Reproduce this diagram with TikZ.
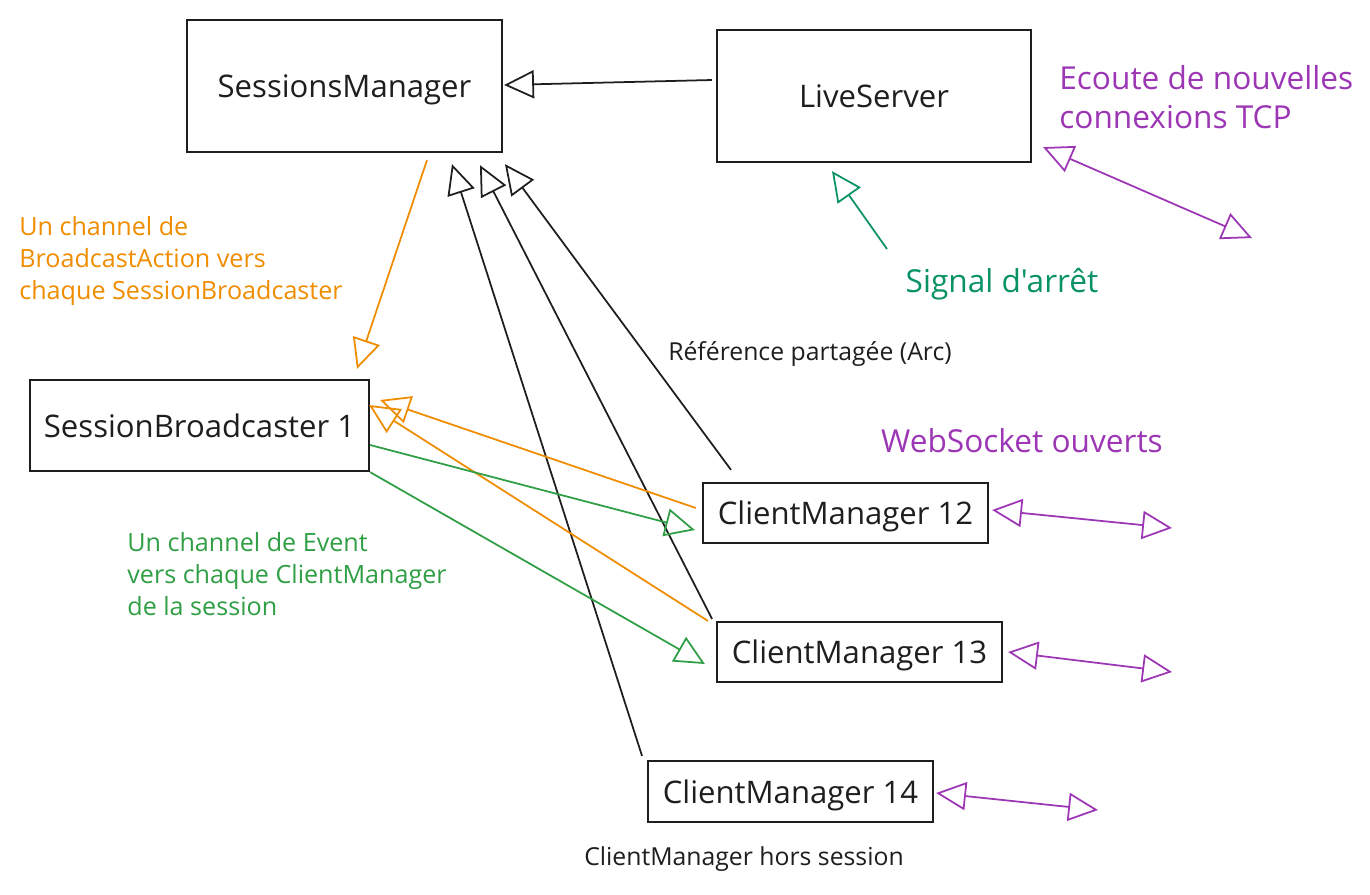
\documentclass[tikz,border=0pt]{standalone}
\usepackage{fontspec}
\setmainfont{Open Sans}[Ligatures=TeXOff]
\usetikzlibrary{positioning}
\usetikzlibrary{arrows.meta}
\definecolor{inkblack}{HTML}{1E1E1E}
\definecolor{excaorange}{HTML}{F08C00}
\definecolor{excagreen}{HTML}{2F9E44}
\definecolor{excateal}{HTML}{099268}
\definecolor{excapurple}{HTML}{9C36B5}
\tikzset{
    box/.style = {rectangle, line width=1.3pt, draw=inkblack, inner sep=0pt, text depth=0pt, text=inkblack, font=\fontsize{17.7}{20}\selectfont},
    notebig/.style = {align=left, inner sep=0pt, font=\fontsize{18}{22.2}\selectfont},
    notemid/.style = {align=left, inner sep=0pt, font=\fontsize{14.3}{18.2}\selectfont},
    notesmall/.style = {inner sep=0pt, text=inkblack, font=\fontsize{14.1}{16}\selectfont},
    edgen/.style = {-{Triangle[open,length=17pt,width=16pt]}, line width=1pt, inkblack},
    edgeo/.style = {-{Triangle[open,length=17pt,width=16pt]}, line width=1pt, excaorange},
    edgeg/.style = {-{Triangle[open,length=17pt,width=16pt]}, line width=1pt, excagreen},
    edget/.style = {-{Triangle[open,length=17pt,width=16pt]}, line width=1pt, excateal},
    edgep/.style = {{Triangle[open,length=17pt,width=16pt]}-{Triangle[open,length=17pt,width=16pt]}, line width=1pt, excapurple}
}

\begin{document}
\begin{tikzpicture}[x=0.02cm, y=-0.02cm]
  \useasboundingbox (0,0) rectangle (1370,894);

\node[box, minimum width=63mm, minimum height=26.4mm] at (344.5,86) (sm) {SessionsManager};
\node[box, minimum width=62.8mm, minimum height=26.4mm] at (874,96) (ls) {LiveServer};
\node[box, minimum width=67.8mm, minimum height=18.2mm] at (199.5,425.5) (sb) {SessionBroadcaster 1};
\node[box, minimum width=57mm, minimum height=12mm] at (845.5,513) (cm12) {ClientManager 12};
\node[box, minimum width=57mm, minimum height=12mm] at (859.5,652) (cm13) {ClientManager 13};
\node[box, minimum width=57mm, minimum height=12.2mm] at (790.5,791.5) (cm14) {ClientManager 14};

\node[notebig, text=excapurple, anchor=west] at (1059,97) (ecoute) {Ecoute de nouvelles\\connexions TCP};
\node[notebig, text=excateal] at (1002,284) (signal) {Signal d'arrêt};
\node[notebig, text=excapurple] at (1022,441) (ws) {WebSocket ouverts};
\node[notemid, text=excaorange, anchor=west] at (19,261) (bcast) {Un channel de\\BroadcastAction vers\\chaque SessionBroadcaster};
\node[notemid, text=excagreen, anchor=west] at (127,574) (event) {Un channel de Event\\vers chaque ClientManager\\de la session};
\node[notesmall] at (810,354) (arc) {Référence partagée (Arc)};
\node[notesmall] at (744,859) (hors) {ClientManager hors session};

% free ends
\coordinate (stop) at (887,249);
\coordinate (tcp) at (1252,238);
\coordinate (ws12) at (1172,528);
\coordinate (ws13) at (1172,672);
\coordinate (ws14) at (1098,810);

\draw[edgen] ([xshift=-0.8mm,yshift=3.2mm]ls.west) -- ([xshift=0.2mm,yshift=0.2mm]sm.east);
\draw[edgeo] ([xshift=16.5mm,yshift=-1.4mm]sm.south) -- ([xshift=31.5mm,yshift=2mm]sb.north);

% Arc
\draw[edgen] ([xshift=-22.9mm,yshift=2.4mm]cm12.north) -- ([xshift=32.1mm,yshift=-2.2mm]sm.south);
\draw[edgen] ([xshift=-29.5mm,yshift=0.4mm]cm13.north) -- ([xshift=27.1mm,yshift=-2.4mm]sm.south);
\draw[edgen] ([xshift=-29.7mm,yshift=0.8mm]cm14.north) -- ([xshift=21.5mm,yshift=-2.2mm]sm.south);

\draw[edgeo] ([xshift=-1.2mm,yshift=1mm]cm12.west) -- ([xshift=2mm,yshift=5.1mm]sb.east);
\draw[edgeo] ([xshift=-1.6mm]cm13.north west) -- ([xshift=-0.2mm,yshift=4.1mm]sb.east);

\draw[edgeg] ([yshift=-3.9mm]sb.east) -- ([xshift=-1.4mm,yshift=-3.4mm]cm12.west);
\draw[edgeg] (sb.south east) -- ([xshift=-2.2mm,yshift=-2.4mm]cm13.west);

\draw[edget] (stop) -- ([xshift=-8.4mm,yshift=-1.6mm]ls.south);

\draw[edgep] ([xshift=2.2mm,yshift=3.2mm]ls.south east) -- (tcp);
\draw[edgep] ([xshift=0.6mm,yshift=0.6mm]cm12.east) -- (ws12);
\draw[edgep] ([xshift=1mm]cm13.east) -- (ws13);
\draw[edgep] ([xshift=0.4mm,yshift=-0.3mm]cm14.east) -- (ws14);

 \end{tikzpicture}
\end{document}
